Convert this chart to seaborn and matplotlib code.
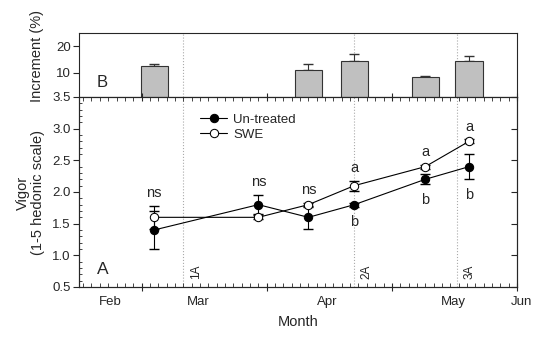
import numpy as np
import pandas as pd
import matplotlib
matplotlib.use('Agg')
import matplotlib.pyplot as plt
import seaborn as sns
from matplotlib.ticker import MultipleLocator

# data (x = day of year)
days = [63, 88, 100, 111, 128, 138.5]
untreated = [1.4, 1.8, 1.6, 1.8, 2.2, 2.4]
untreated_err = [0.3, 0.15, 0.18, 0.03, 0.08, 0.2]
swe = [1.6, 1.6, 1.8, 2.1, 2.4, 2.8]
swe_err = [0.18, 0.03, 0.03, 0.08, 0.03, 0.03]
sig_top = ['ns', 'ns', 'ns', 'a', 'a', 'a']
sig_bottom = ['', '', '', 'b', 'b', 'b']

bar_days = [63, 100, 111, 128, 138.5]
increment = [12.5, 11.2, 14.4, 8.5, 14.4]
increment_err = [1.0, 2.2, 2.7, 0.4, 1.8]

months = ['Feb', 'Mar', 'Apr', 'May', 'Jun']
month_days = [52.6, 73.6, 104.5, 134.7, 151]
app_days = [70, 111, 135.6]
app_labels = ['1A', '2A', '3A']

sns.set_style('ticks')
plt.rcParams['font.family'] = ['Liberation Sans', 'DejaVu Sans']
plt.rcParams['axes.linewidth'] = 0.8

fig = plt.figure(figsize=(5.5, 3.39), dpi=100)
ax_top = fig.add_axes([0.1436, 0.7139, 0.7964, 0.1888])
ax = fig.add_axes([0.1436, 0.1534, 0.7964, 0.5605], sharex=ax_top)

# --- upper panel: increment bars
ax_top.bar(bar_days, increment, width=6.5, color='#c0c0c0', edgecolor='#333333',
           linewidth=0.8, zorder=2)
ax_top.errorbar(bar_days, increment, yerr=[np.zeros(len(increment_err)), increment_err],
                fmt='none', ecolor='#333333', elinewidth=0.8, capsize=3.5, zorder=1)
ax_top.set_ylim(1, 25)
ax_top.set_yticks([10, 20])
ax_top.tick_params(axis='y', direction='out', length=4, width=0.8, labelsize=9.5, pad=2)
ax_top.tick_params(axis='x', which='both', bottom=False, labelbottom=False)
ax_top.text(0.041, 0.22, 'B', transform=ax_top.transAxes, fontsize=12, va='center')

# --- lower panel: vigor lines
ax.errorbar(days, untreated, yerr=untreated_err, fmt='none', ecolor='black',
            elinewidth=0.8, capsize=3.5, zorder=1)
ax.errorbar(days, swe, yerr=swe_err, fmt='none', ecolor='black',
            elinewidth=0.8, capsize=3.5, zorder=1)
sns.lineplot(x=days, y=untreated, color='black', marker='o', markersize=6,
             markerfacecolor='black', markeredgecolor='black', linewidth=0.8,
             label='Un-treated', ax=ax, zorder=3)
sns.lineplot(x=days, y=swe, color='black', marker='o', markersize=6,
             markerfacecolor='white', markeredgecolor='black', linewidth=0.8,
             label='SWE', ax=ax, zorder=3)

for d, u, ue, s, se, t, b in zip(days, untreated, untreated_err, swe, swe_err, sig_top, sig_bottom):
    top = max(u + ue, s + se)
    low = min(u - ue, s - se)
    ax.text(d, top + 0.2, t, ha='center', va='center', fontsize=10.5)
    if b:
        ax.text(d, low - 0.24, b, ha='center', va='center', fontsize=10.5)

ax.set_xlim(45, 150)
ax.set_ylim(0.5, 3.5)
ax.set_xticks([60, 90, 120, 150])
ax.xaxis.set_minor_locator(MultipleLocator(2))
ax.set_yticks(np.arange(0.5, 3.51, 0.5))
ax.set_yticklabels([f'{v:.1f}' for v in np.arange(0.5, 3.51, 0.5)])
ax.yaxis.set_minor_locator(MultipleLocator(0.1))
ax.tick_params(axis='x', which='major', direction='inout', length=6, width=0.8,
               top=True, labelbottom=False)
ax.tick_params(axis='x', which='minor', direction='in', length=3, width=0.6, top=True)
ax.tick_params(axis='y', which='major', direction='out', length=4, width=0.8,
               labelsize=9.5, pad=2)
ax.tick_params(axis='y', which='minor', direction='in', length=2, width=0.6)
ax.set_xlabel('')
ax.set_ylabel('')

# right-side inward ticks
ax_r = ax.twinx()
ax_r.set_ylim(0.5, 3.5)
ax_r.set_yticks(np.arange(0.5, 3.51, 0.5))
ax_r.tick_params(axis='y', direction='in', length=4, width=0.8, labelright=False)

for d, lab in zip(app_days, app_labels):
    for a in (ax, ax_top):
        a.axvline(d, color='#aaaaaa', linestyle=':', linewidth=0.8, zorder=0)
    ax.text(d + 3, 0.08, lab, transform=ax.get_xaxis_transform(), rotation=90,
            ha='center', va='center', fontsize=8.5)

for m, d in zip(months, month_days):
    ax.text(d, -0.079, m, transform=ax.get_xaxis_transform(), ha='center',
            va='center', fontsize=9.5)

ax.text(0.041, 0.09, 'A', transform=ax.transAxes, fontsize=12.5, va='center')

ax.legend(frameon=False, loc='upper left', bbox_to_anchor=(0.265, 0.94),
          handlelength=2.0, handletextpad=0.5, labelspacing=0.2, fontsize=9.5,
          borderaxespad=0)

fig.text(0.542, 0.05, 'Month', ha='center', va='center', fontsize=10.5)
fig.text(0.067, 0.835, 'Increment (%)', rotation=90, ha='center', va='center', fontsize=10.5)
fig.text(0.055, 0.431, 'Vigor\n(1-5 hedonic scale)', rotation=90, ha='center',
         va='center', multialignment='center', fontsize=10.5, linespacing=1.1)

fig.savefig('out.png', dpi=100)
